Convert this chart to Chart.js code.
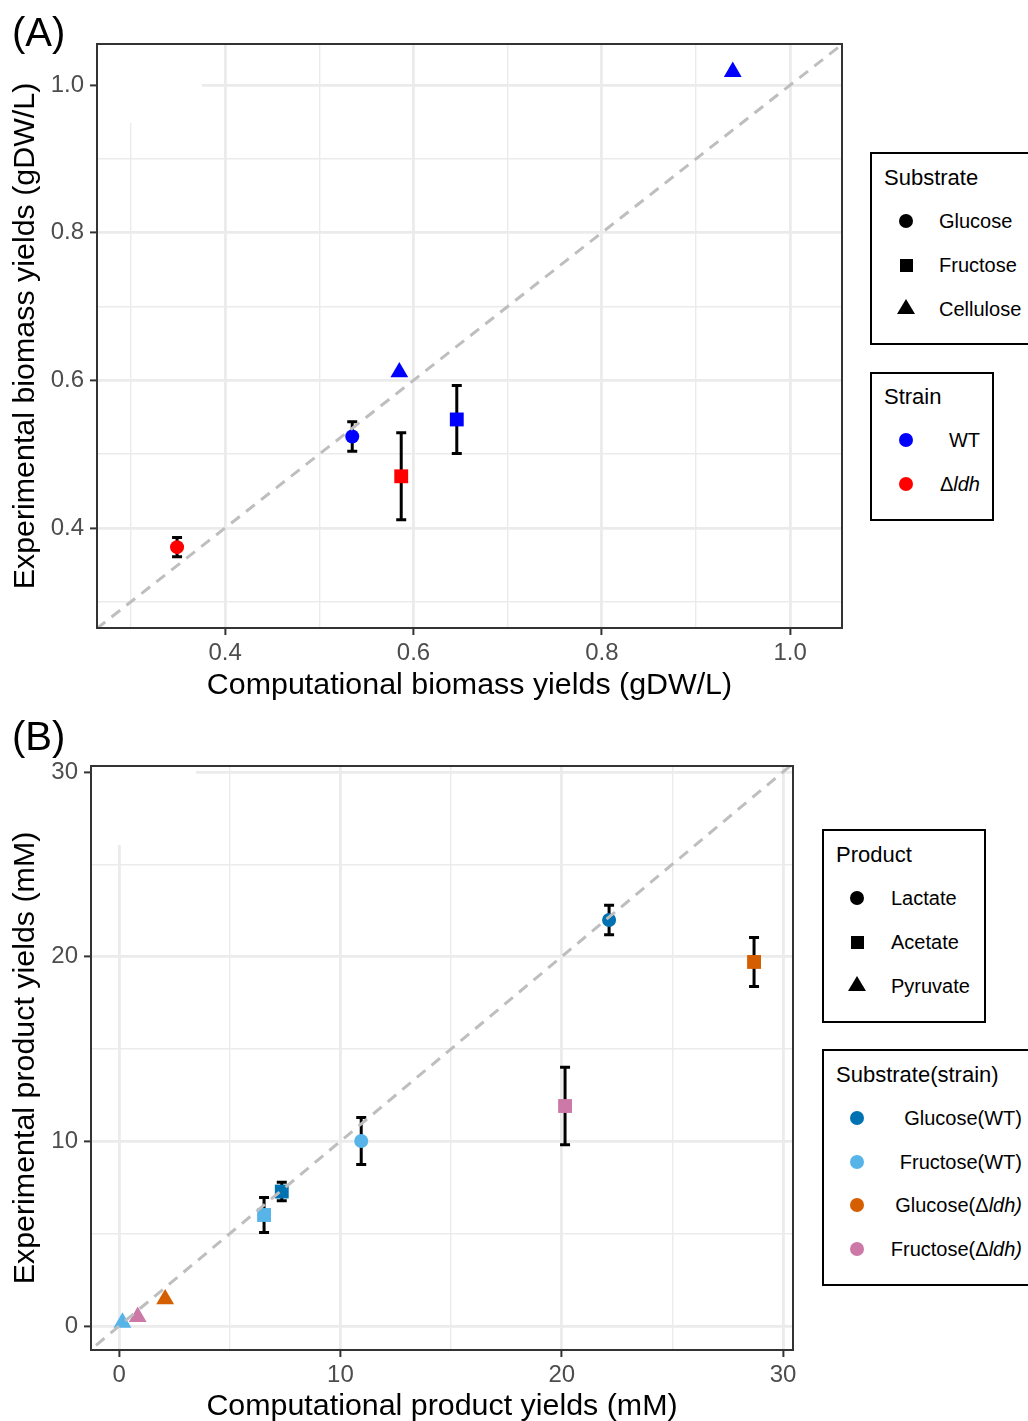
<!DOCTYPE html>
<html>
<head>
<meta charset="utf-8">
<script src="https://cdn.jsdelivr.net/npm/chart.js@4.4.1/dist/chart.umd.min.js"></script>
<style>
  html, body { margin: 0; padding: 0; background: #fff; }
  body { width: 1028px; height: 1421px; overflow: hidden; position: relative;
         font-family: "Liberation Sans", Arial, Helvetica, sans-serif; color: #000; }
  canvas { position: absolute; }
  .panel { position: absolute; font-size: 40px; line-height: 40px; }
  .box { position: absolute; border: 2px solid #000; box-sizing: border-box; background: #fff; }
  .ttl { position: absolute; font-size: 22px; line-height: 26px; white-space: nowrap; }
  .lab { position: absolute; font-size: 20px; line-height: 24px; white-space: nowrap; }
  .sym { position: absolute; }
</style>
</head>
<body>
<canvas id="chartA" width="860" height="712" style="left:0;top:0"></canvas>
<canvas id="chartB" width="810" height="705" style="left:0;top:720px"></canvas>
<div class="panel" style="left:12px;top:12px">(A)</div>
<div class="panel" style="left:12px;top:716px">(B)</div>
<div id="legends"></div>
<script>
// ================= Panel A data =================
const aSubstrates = ['Glucose', 'Fructose', 'Cellulose'];
const aStrains = ['WT', 'Δldh'];
const aWtSubstrate = ['Glucose', 'Fructose', 'Cellulose', 'Cellulose'];
const aWtComputational = [0.535, 0.646, 0.585, 0.939];
const aWtExperimental = [0.524, 0.547, 0.611, 1.018];
const aWtError = [0.020, 0.046, null, null];
const aLdhSubstrate = ['Glucose', 'Fructose'];
const aLdhComputational = [0.349, 0.587];
const aLdhExperimental = [0.374, 0.470];
const aLdhError = [0.013, 0.059];
const aMajorTicks = [0.4, 0.6, 0.8, 1.0];
const aMinorTicks = [0.3, 0.5, 0.7, 0.9];
const aXLimits = [0.264, 1.055];
const aYLimits = [0.2645, 1.0556];
const aDiagonal = [0.2, 1.2];

// ================= Panel B data =================
const bProducts = ['Lactate', 'Acetate', 'Pyruvate'];
const bGroups = ['Glucose(WT)', 'Fructose(WT)', 'Glucose(Δldh)', 'Fructose(Δldh)'];
const bGlcWtProduct = ['Lactate', 'Acetate'];
const bGlcWtComputational = [22.14, 7.35];
const bGlcWtExperimental = [21.98, 7.28];
const bGlcWtError = [0.8, 0.5];
const bFruWtProduct = ['Lactate', 'Acetate', 'Pyruvate'];
const bFruWtComputational = [10.94, 6.55, 0.15];
const bFruWtExperimental = [10.02, 6.01, 0.18];
const bFruWtError = [1.27, 0.95, null];
const bGlcLdhProduct = ['Acetate', 'Pyruvate'];
const bGlcLdhComputational = [28.69, 2.08];
const bGlcLdhExperimental = [19.71, 1.45];
const bGlcLdhError = [1.33, null];
const bFruLdhProduct = ['Acetate', 'Pyruvate'];
const bFruLdhComputational = [20.15, 0.84];
const bFruLdhExperimental = [11.91, 0.50];
const bFruLdhError = [2.1, null];
const bMajorTicks = [0, 10, 20, 30];
const bMinorTicks = [5, 15, 25];
const bXLimits = [-1.27, 30.45];
const bYLimits = [-1.3, 30.32];
const bDiagonal = [-5, 35];

// ================= styles =================
const FONT = '"Liberation Sans", Arial, Helvetica, sans-serif';
const shapeOf = { Glucose: 'circle', Fructose: 'rect', Cellulose: 'triangle',
                  Lactate: 'circle', Acetate: 'rect', Pyruvate: 'triangle' };
const radiusOf = { circle: 7, rect: 9.8, triangle: 10.3 };
const aColors = { 'WT': '#0000FF', 'Δldh': '#FF0000' };
const bColors = { 'Glucose(WT)': '#0072B2', 'Fructose(WT)': '#56B4E9',
                  'Glucose(Δldh)': '#D55E00', 'Fructose(Δldh)': '#CC79A7' };

Chart.defaults.font.family = FONT;

function pointSet(label, xs, ys, errs, cats, color) {
  return {
    type: 'scatter', label,
    data: xs.map((x, i) => ({ x, y: ys[i] })),
    errBars: errs,
    pointStyle: cats.map(c => shapeOf[c]),
    pointRadius: cats.map(c => radiusOf[shapeOf[c]]),
    pointHoverRadius: cats.map(c => radiusOf[shapeOf[c]]),
    pointBackgroundColor: color,
    pointBorderWidth: 0,
    backgroundColor: color,
    borderWidth: 0,
    order: 2
  };
}
function diagonalSet(ends) {
  return {
    type: 'line', label: 'y = x',
    data: ends.map(v => ({ x: v, y: v })),
    borderColor: '#BEBEBE', borderWidth: 3, borderDash: [11, 8],
    pointRadius: 0, fill: false, order: 0
  };
}
function makeScale(axis, lim, major, minor, title, fmt, boxSize, tickPad, titlePad) {
  const all = [...major, ...minor].sort((a, b) => a - b);
  const isMajor = v => major.some(m => Math.abs(m - v) < 1e-9);
  return {
    type: 'linear', position: axis === 'x' ? 'bottom' : 'left',
    min: lim[0], max: lim[1],
    afterBuildTicks: s => { s.ticks = all.map(v => ({ value: v })); },
    afterFit: s => { if (axis === 'x') s.height = boxSize; else s.width = boxSize; },
    ticks: {
      autoSkip: false, maxRotation: 0, minRotation: 0,
      color: '#4D4D4D', font: { size: 24, family: FONT }, padding: tickPad,
      callback: v => isMajor(v) ? fmt(v) : ''
    },
    grid: {
      color: '#EBEBEB',
      lineWidth: c => (c.tick && isMajor(c.tick.value)) ? 2.8 : 1.4,
      tickColor: c => (c.tick && isMajor(c.tick.value)) ? '#333333' : 'rgba(0,0,0,0)',
      tickWidth: 2, tickLength: 7, drawTicks: true
    },
    border: { display: false },
    title: { display: true, text: title, color: '#000',
             font: { size: 30.4, family: FONT, lineHeight: 1.2 }, padding: titlePad }
  };
}
const panelPlugin = {
  id: 'panelDeco',
  beforeDatasetsDraw(chart) {
    const { ctx, chartArea: a, scales: { x, y } } = chart;
    // blank patch present in the top-left corner of the original panels
    ctx.save();
    ctx.fillStyle = '#fff';
    ctx.fillRect(a.left + 1, a.top + 1, 104, 78);
    ctx.restore();
    // error bars
    ctx.save();
    ctx.strokeStyle = '#000'; ctx.lineWidth = 3; ctx.lineCap = 'butt';
    chart.data.datasets.forEach(d => {
      if (!d.errBars) return;
      d.data.forEach((p, i) => {
        const e = d.errBars[i];
        if (e == null) return;
        const px = x.getPixelForValue(p.x);
        const y1 = y.getPixelForValue(p.y + e), y2 = y.getPixelForValue(p.y - e);
        ctx.beginPath();
        ctx.moveTo(px, y1); ctx.lineTo(px, y2);
        ctx.moveTo(px - 5, y1); ctx.lineTo(px + 5, y1);
        ctx.moveTo(px - 5, y2); ctx.lineTo(px + 5, y2);
        ctx.stroke();
      });
    });
    ctx.restore();
  },
  afterDraw(chart) {
    const { ctx, chartArea: a } = chart;
    ctx.save();
    ctx.strokeStyle = '#333333'; ctx.lineWidth = 2;
    ctx.strokeRect(a.left, a.top, a.right - a.left, a.bottom - a.top);
    ctx.restore();
  }
};

// ================= Chart A =================
new Chart(document.getElementById('chartA'), {
  data: {
    datasets: [
      pointSet('WT', aWtComputational, aWtExperimental, aWtError, aWtSubstrate, aColors['WT']),
      pointSet('Δldh', aLdhComputational, aLdhExperimental, aLdhError, aLdhSubstrate, aColors['Δldh']),
      diagonalSet(aDiagonal)
    ]
  },
  options: {
    responsive: false, animation: false, devicePixelRatio: 1, events: [],
    layout: { padding: { top: 44, right: 18, left: 0, bottom: 0 } },
    plugins: { legend: { display: false }, tooltip: { enabled: false } },
    scales: {
      x: makeScale('x', aXLimits, aMajorTicks, aMinorTicks, 'Computational biomass yields (gDW/L)',
                   v => v.toFixed(1), 84, 4, { top: 0, bottom: 8 }),
      y: makeScale('y', aYLimits, aMajorTicks, aMinorTicks, 'Experimental biomass yields (gDW/L)',
                   v => v.toFixed(1), 97, 6, { top: 7, bottom: 0 })
    }
  },
  plugins: [panelPlugin]
});

// ================= Chart B =================
new Chart(document.getElementById('chartB'), {
  data: {
    datasets: [
      pointSet('Glucose(WT)', bGlcWtComputational, bGlcWtExperimental, bGlcWtError, bGlcWtProduct, bColors['Glucose(WT)']),
      pointSet('Fructose(WT)', bFruWtComputational, bFruWtExperimental, bFruWtError, bFruWtProduct, bColors['Fructose(WT)']),
      pointSet('Glucose(Δldh)', bGlcLdhComputational, bGlcLdhExperimental, bGlcLdhError, bGlcLdhProduct, bColors['Glucose(Δldh)']),
      pointSet('Fructose(Δldh)', bFruLdhComputational, bFruLdhExperimental, bFruLdhError, bFruLdhProduct, bColors['Fructose(Δldh)']),
      diagonalSet(bDiagonal)
    ]
  },
  options: {
    responsive: false, animation: false, devicePixelRatio: 1, events: [],
    layout: { padding: { top: 46, right: 17, left: 0, bottom: 0 } },
    plugins: { legend: { display: false }, tooltip: { enabled: false } },
    scales: {
      x: makeScale('x', bXLimits, bMajorTicks, bMinorTicks, 'Computational product yields (mM)',
                   v => String(v), 75, 4, { top: 0, bottom: 0 }),
      y: makeScale('y', bYLimits, bMajorTicks, bMinorTicks, 'Experimental product yields (mM)',
                   v => String(v), 91, 6, { top: 7, bottom: 0 })
    }
  },
  plugins: [panelPlugin]
});

// ================= Legends (HTML) =================
const L = document.getElementById('legends');
function add(html) { L.insertAdjacentHTML('beforeend', html); }
function symbol(shape, color, cx, cy) {
  if (shape === 'circle')
    add(`<div class="sym" style="left:${cx - 7}px;top:${cy - 7}px;width:14px;height:14px;border-radius:50%;background:${color}"></div>`);
  else if (shape === 'rect')
    add(`<div class="sym" style="left:${cx - 6.5}px;top:${cy - 6.5}px;width:13px;height:13px;background:${color}"></div>`);
  else
    add(`<div class="sym" style="left:${cx - 9}px;top:${cy - 10}px;width:0;height:0;border-left:9px solid transparent;border-right:9px solid transparent;border-bottom:15px solid ${color}"></div>`);
}
function fmtLabel(t) { return t.replace('Δldh)', 'Δ<i>ldh)</i>').replace(/Δldh$/, 'Δ<i>ldh</i>'); }
function box(l, t, w, h) { add(`<div class="box" style="left:${l}px;top:${t}px;width:${w}px;height:${h}px"></div>`); }
function title(text, l, cy) { add(`<div class="ttl" style="left:${l}px;top:${cy - 13}px">${text}</div>`); }
function labelLeft(text, l, cy) { add(`<div class="lab" style="left:${l}px;top:${cy - 12}px">${fmtLabel(text)}</div>`); }
function labelRight(text, r, cy) { add(`<div class="lab" style="right:${1028 - r}px;top:${cy - 12}px;text-align:right">${fmtLabel(text)}</div>`); }

// Panel A: Substrate
box(870, 152, 180, 193);
title('Substrate', 884, 178);
aSubstrates.forEach((s, i) => { const cy = 221 + i * 44; symbol(shapeOf[s], '#000', 906, cy); labelLeft(s, 939, cy); });
// Panel A: Strain
box(870, 372, 124, 149);
title('Strain', 884, 397);
aStrains.forEach((s, i) => { const cy = 440 + i * 44; symbol('circle', aColors[s], 906, cy); labelRight(s, 980, cy); });
// Panel B: Product
box(822, 829, 164, 194);
title('Product', 836, 855);
bProducts.forEach((p, i) => { const cy = 898 + i * 44; symbol(shapeOf[p], '#000', 857, cy); labelLeft(p, 891, cy); });
// Panel B: Substrate(strain)
box(822, 1049, 230, 237);
title('Substrate(strain)', 836, 1075);
bGroups.forEach((g, i) => { const cy = 1118 + i * 43.7; symbol('circle', bColors[g], 857, cy); labelRight(g, 1022, cy); });
</script>
</body>
</html>
